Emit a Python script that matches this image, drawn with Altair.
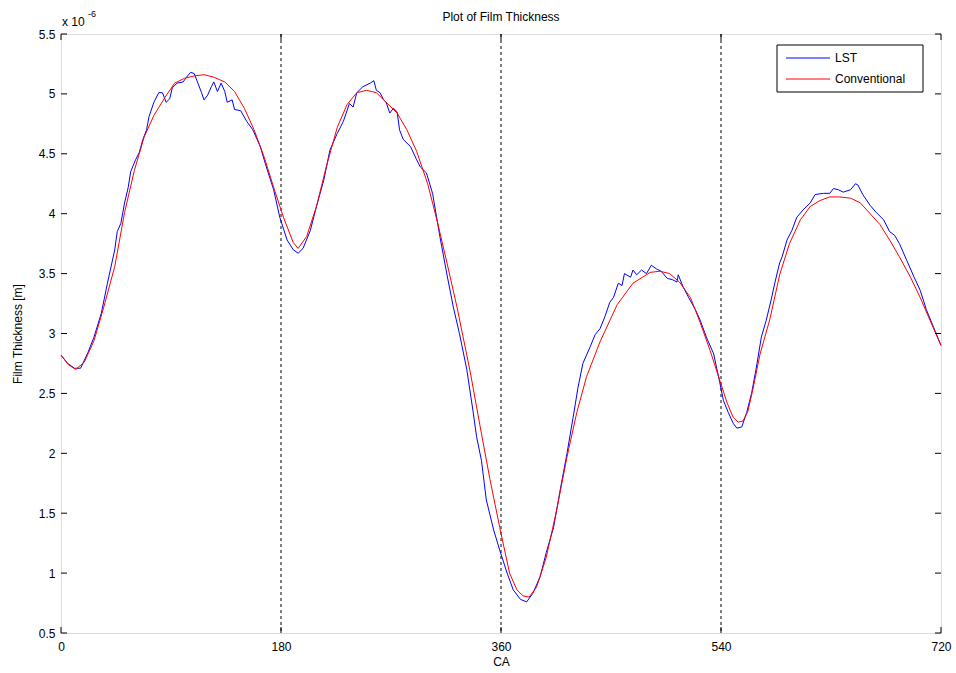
import altair as alt
import pandas as pd

# Crank angle (deg) and film thickness (x 1e-6 m) for the LST liner
lst_ca = [0, 5.5, 11, 16, 22, 27, 33, 38, 44, 46, 49, 52, 55, 57, 61, 64, 67, 70, 72, 76,
          80, 83, 86, 89, 91, 95, 100, 102, 106, 109, 112, 115, 117, 120, 123, 125, 128, 131,
          134, 136, 140, 142, 147, 152, 157, 163, 168, 174, 179, 185, 190, 194, 198, 204, 209,
          215, 220, 226, 231, 236, 239, 242, 247, 253, 256, 258, 261, 264, 266, 269, 272, 275,
          277, 280, 286, 291, 294, 299, 304, 310, 316, 321, 326, 332, 337, 340, 344, 348, 354,
          359, 365, 370, 376, 381, 386, 392, 397, 403, 408, 414, 419, 423, 427, 433, 437, 441,
          445, 449, 452, 456, 459, 461, 466, 468, 471, 475, 479, 483, 487, 491, 496, 500, 504,
          505, 509, 513, 519, 523, 528, 534, 539, 542, 546, 550, 553, 557, 561, 565, 569, 573,
          577, 581, 584, 588, 590, 594, 598, 602, 607, 613, 617, 624, 629, 632, 636, 640, 646,
          650, 652, 656, 662, 667, 673, 678, 682, 686, 692, 698, 703, 708, 714, 720]
lst_h = [2.82, 2.75, 2.71, 2.71, 2.84, 2.97, 3.17, 3.42, 3.70, 3.85, 3.92, 4.09, 4.22, 4.35,
         4.45, 4.51, 4.62, 4.70, 4.81, 4.93, 5.01, 5.01, 4.93, 4.96, 5.05, 5.09, 5.10, 5.13,
         5.18, 5.17, 5.09, 5.01, 4.95, 4.99, 5.06, 5.10, 5.02, 5.09, 5.02, 4.93, 4.95, 4.87,
         4.86, 4.77, 4.70, 4.56, 4.39, 4.20, 3.97, 3.78, 3.70, 3.67, 3.71, 3.86, 4.06, 4.28,
         4.53, 4.67, 4.77, 4.92, 4.89, 5.01, 5.06, 5.09, 5.11, 5.03, 5.01, 4.95, 4.93, 4.84,
         4.88, 4.85, 4.70, 4.62, 4.56, 4.45, 4.39, 4.34, 4.17, 3.81, 3.48, 3.22, 3.00, 2.70,
         2.36, 2.14, 1.94, 1.61, 1.36, 1.19, 1.00, 0.86, 0.78, 0.76, 0.83, 0.97, 1.17, 1.38,
         1.67, 2.00, 2.30, 2.55, 2.75, 2.89, 2.99, 3.04, 3.14, 3.26, 3.30, 3.42, 3.40, 3.50,
         3.47, 3.53, 3.49, 3.53, 3.50, 3.57, 3.54, 3.52, 3.46, 3.45, 3.43, 3.49, 3.39, 3.31,
         3.20, 3.11, 2.97, 2.83, 2.59, 2.44, 2.34, 2.25, 2.21, 2.22, 2.34, 2.50, 2.72, 2.97,
         3.11, 3.28, 3.42, 3.59, 3.64, 3.78, 3.86, 3.97, 4.03, 4.09, 4.16, 4.17, 4.17, 4.21,
         4.20, 4.18, 4.20, 4.25, 4.24, 4.16, 4.07, 4.01, 3.95, 3.85, 3.82, 3.75, 3.61, 3.47,
         3.36, 3.20, 3.05, 2.90]

# Conventional liner
conv_ca = [0, 6, 12, 19, 27, 35, 44, 52, 60, 68, 76, 85, 93, 101, 109, 117, 125, 134, 142,
           150, 158, 166, 174, 182, 190, 194, 201, 209, 217, 226, 234, 242, 250, 258, 266,
           275, 283, 291, 300, 308, 316, 324, 335, 343, 351, 359, 367, 373, 378, 383, 389,
           397, 406, 414, 422, 430, 441, 455, 468, 482, 490, 498, 506, 515, 523, 531, 539,
           545, 550, 554, 558, 562, 566, 572, 580, 588, 596, 605, 613, 621, 629, 637, 646,
           654, 662, 670, 678, 686, 695, 703, 711, 720]
conv_h = [2.82, 2.74, 2.70, 2.76, 2.94, 3.22, 3.56, 4.01, 4.36, 4.64, 4.82, 4.97, 5.09, 5.13,
          5.15, 5.16, 5.14, 5.10, 5.02, 4.88, 4.70, 4.48, 4.22, 3.97, 3.76, 3.71, 3.81, 4.06,
          4.39, 4.72, 4.91, 5.01, 5.03, 5.01, 4.93, 4.84, 4.70, 4.52, 4.25, 3.93, 3.58, 3.22,
          2.67, 2.22, 1.78, 1.38, 1.00, 0.86, 0.81, 0.80, 0.88, 1.13, 1.55, 1.97, 2.34, 2.64,
          2.93, 3.24, 3.42, 3.51, 3.52, 3.50, 3.43, 3.30, 3.09, 2.86, 2.61, 2.42, 2.30, 2.26,
          2.27, 2.35, 2.53, 2.83, 3.12, 3.49, 3.75, 3.95, 4.06, 4.11, 4.14, 4.14, 4.13, 4.09,
          4.00, 3.91, 3.78, 3.64, 3.47, 3.30, 3.11, 2.90]

series_names = ["LST", "Conventional"]
series_colors = ["#0000ff", "#ff0000"]
x_ticks = [0, 180, 360, 540, 720]
y_ticks = [0.5, 1, 1.5, 2, 2.5, 3, 3.5, 4, 4.5, 5, 5.5]
stroke_markers = [180, 360, 540]

df = pd.concat([
    pd.DataFrame({"ca": lst_ca, "h": lst_h, "series": "LST"}),
    pd.DataFrame({"ca": conv_ca, "h": conv_h, "series": "Conventional"}),
])

W, H = 880, 599
FONT = "Liberation Sans"

x_scale = alt.Scale(domain=[0, 720], nice=False, zero=False)
y_scale = alt.Scale(domain=[0.5, 5.5], nice=False, zero=False)

x_enc = alt.X("ca:Q", scale=x_scale, axis=alt.Axis(
    values=x_ticks, title="CA", tickSize=0, domain=False, grid=False, labelFlush=False,
    labelPadding=8, titlePadding=4, labelFontSize=12, titleFontSize=12,
    titleFontWeight="normal", labelFont=FONT, titleFont=FONT,
    labelColor="black", titleColor="black"))
y_enc = alt.Y("h:Q", scale=y_scale, axis=alt.Axis(
    values=y_ticks, title="Film Thickness [m]", tickSize=0, domain=False, grid=False,
    labelFlush=False, labelPadding=6, titlePadding=14, labelFontSize=12, titleFontSize=12,
    titleFontWeight="normal", labelFont=FONT, titleFont=FONT,
    labelColor="black", titleColor="black", labelExpr="'' + datum.value"))

lines = alt.Chart(df).mark_line(strokeWidth=1).encode(
    x=x_enc,
    y=y_enc,
    color=alt.Color("series:N", scale=alt.Scale(domain=series_names, range=series_colors),
                    legend=None),
)

# dashed stroke boundaries (TDC/BDC)
bounds = alt.Chart(pd.DataFrame({"ca": stroke_markers})).mark_rule(
    color="black", strokeWidth=1, strokeDash=[3, 3]
).encode(x=alt.X("ca:Q", scale=x_scale))

# inward tick marks on all four sides
ytk = pd.DataFrame({"h": y_ticks})
xtk = pd.DataFrame({"ca": x_ticks})
tick_l = alt.Chart(ytk).mark_rule(color="black").encode(
    y=alt.Y("h:Q", scale=y_scale), x=alt.value(0), x2=alt.value(6))
tick_r = alt.Chart(ytk).mark_rule(color="black").encode(
    y=alt.Y("h:Q", scale=y_scale), x=alt.value(W - 6), x2=alt.value(W))
tick_b = alt.Chart(xtk).mark_rule(color="black").encode(
    x=alt.X("ca:Q", scale=x_scale), y=alt.value(H - 6), y2=alt.value(H))
tick_t = alt.Chart(xtk).mark_rule(color="black").encode(
    x=alt.X("ca:Q", scale=x_scale), y=alt.value(0), y2=alt.value(6))

# exponent label for the y axis
exp_df = pd.DataFrame({"ca": [0], "h": [5.5]})
exp_base = alt.Chart(exp_df).mark_text(
    text="x 10", align="left", baseline="middle", fontSize=12, font=FONT,
    color="black", dx=1, dy=-12
).encode(x=alt.X("ca:Q", scale=x_scale), y=alt.Y("h:Q", scale=y_scale))
exp_pow = alt.Chart(exp_df).mark_text(
    text="-6", align="left", baseline="middle", fontSize=9, font=FONT,
    color="black", dx=27, dy=-20
).encode(x=alt.X("ca:Q", scale=x_scale), y=alt.Y("h:Q", scale=y_scale))

# chart heading
heading = alt.Chart(pd.DataFrame({"t": ["Plot of Film Thickness"]})).mark_text(
    align="center", baseline="middle", fontSize=12, font=FONT, color="black"
).encode(text="t:N", x=alt.value(W / 2), y=alt.value(-17))

# legend box
LX, LY = 716, 11
legend_box = alt.Chart(pd.DataFrame({"k": [0]})).mark_rect(
    fill="white", stroke="black", strokeWidth=1
).encode(x=alt.value(LX), x2=alt.value(LX + 146), y=alt.value(LY), y2=alt.value(LY + 47))

legend_layers = [legend_box]
for i, (name, col) in enumerate(zip(series_names, series_colors)):
    yy = LY + 13 + 21 * i
    one = alt.Chart(pd.DataFrame({"series": [name]}))
    legend_layers.append(one.mark_rule(color=col, strokeWidth=1).encode(
        x=alt.value(LX + 9), x2=alt.value(LX + 53), y=alt.value(yy)))
    legend_layers.append(one.mark_text(
        align="left", baseline="middle", fontSize=12, font=FONT, color="black"
    ).encode(text="series:N", x=alt.value(LX + 58), y=alt.value(yy)))

chart = alt.layer(
    bounds, lines, tick_l, tick_r, tick_b, tick_t, exp_base, exp_pow, heading,
    *legend_layers
).properties(
    width=W, height=H,
    autosize=alt.AutoSizeParams(type="none"),
    padding={"left": 61, "top": 34, "right": 15, "bottom": 40},
).configure_view(stroke="black", strokeWidth=1).configure(background="white")

chart.save("out.html", embed_options={"renderer": "svg", "actions": False})
